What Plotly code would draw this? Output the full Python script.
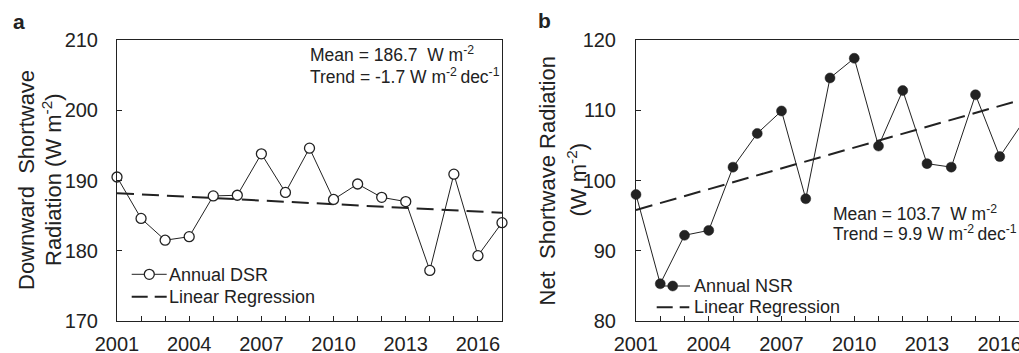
import plotly.graph_objects as go

# ---------------- data ----------------
years = list(range(2001, 2018))
dsr_annual = [190.5, 184.6, 181.5, 182.0, 187.8, 187.9, 193.8, 188.3, 194.6,
              187.3, 189.5, 187.6, 187.0, 177.2, 190.9, 179.3, 184.0]
nsr_annual = [98.0, 85.3, 92.2, 92.9, 101.9, 106.7, 109.9, 97.4, 114.6,
              117.4, 104.9, 112.8, 102.4, 101.9, 112.2, 103.4, 108.5]
trend_years = [2001, 2017]
dsr_trend = [188.2, 185.4]
nsr_trend = [95.8, 111.6]
x_tick_vals = list(range(2001, 2018))
x_tick_text = [str(y) if (y - 2001) % 3 == 0 else "" for y in x_tick_vals]

# ---------------- layout helpers ----------------
W, H = 1019, 353
FONT = "Liberation Sans, Arial, Helvetica, sans-serif"
INK = "#222222"


def px(x):
    return x / W


def py(y):
    return 1 - y / H


fig = go.Figure()

# Panel a
fig.add_trace(go.Scatter(x=trend_years, y=dsr_trend, mode="lines", name="Linear Regression",
                         line=dict(color=INK, width=2, dash="17px,8px"),
                         xaxis="x", yaxis="y", showlegend=False))
fig.add_trace(go.Scatter(x=years, y=dsr_annual, mode="lines+markers", name="Annual DSR",
                         line=dict(color=INK, width=1),
                         marker=dict(symbol="circle", size=10, color="white",
                                     line=dict(color=INK, width=1.3)),
                         cliponaxis=False, xaxis="x", yaxis="y", showlegend=False))
# Panel b
fig.add_trace(go.Scatter(x=trend_years, y=nsr_trend, mode="lines", name="Linear Regression",
                         line=dict(color=INK, width=2, dash="17px,8px"),
                         xaxis="x2", yaxis="y2", showlegend=False))
fig.add_trace(go.Scatter(x=years, y=nsr_annual, mode="lines+markers", name="Annual NSR",
                         line=dict(color=INK, width=1),
                         marker=dict(symbol="circle", size=10, color=INK,
                                     line=dict(color=INK, width=0.5)),
                         cliponaxis=False, xaxis="x2", yaxis="y2", showlegend=False))

axis_common = dict(showgrid=False, zeroline=False, showline=True, linecolor=INK, linewidth=1,
                   ticks="inside", ticklen=5, tickwidth=1, tickcolor=INK, automargin=False,
                   ticklabeloverflow="allow",
                   tickfont=dict(family=FONT, size=20, color=INK))

xdom_a = [px(117), px(502)]
xdom_b = [px(636), 1.0]
ydom = [py(321), py(40)]

fig.update_layout(
    template="none",
    width=W, height=H, margin=dict(l=0, r=0, t=0, b=0, pad=0, autoexpand=False),
    paper_bgcolor="white", plot_bgcolor="white",
    font=dict(family=FONT, color=INK),
    xaxis=dict(domain=xdom_a, range=[2001, 2017], tickmode="array",
               tickvals=x_tick_vals, ticktext=x_tick_text, mirror=True,
               ticklabelstandoff=5, anchor="y", **axis_common),
    yaxis=dict(domain=ydom, range=[170, 210], tickmode="linear", tick0=170, dtick=10,
               mirror=True, ticklabelstandoff=14, anchor="x", **axis_common),
    xaxis2=dict(domain=xdom_b, range=[2001, 2001 + (1019 - 636) / 24.25], tickmode="array",
                tickvals=x_tick_vals, ticktext=x_tick_text, mirror=True,
                ticklabelstandoff=5, anchor="y2", **axis_common),
    yaxis2=dict(domain=ydom, range=[80, 120], tickmode="linear", tick0=80, dtick=10,
                mirror=False, ticklabelstandoff=15, anchor="x2", **axis_common),
)

ann = []


def text(x, y, s, size=18, xanchor="left", angle=0, bold=False):
    ann.append(dict(x=px(x), y=py(y), xref="paper", yref="paper", text=s, showarrow=False,
                    xanchor=xanchor, yanchor="middle", textangle=angle,
                    font=dict(family=FONT, size=size, color=INK,
                              weight="bold" if bold else "normal")))


# panel labels
text(11, 21, "a", size=21, bold=True)
text(536, 20, "b", size=21, bold=True)

# y axis titles
text(26, 180, "Downward\u00a0\u00a0Shortwave", size=22, xanchor="center", angle=-90)
text(52, 180, "Radiation (W m<sup>-2</sup>)", size=22, xanchor="center", angle=-90)
text(547.5, 181, "Net\u00a0\u00a0Shortwave Radiation", size=22, xanchor="center", angle=-90)
text(576.5, 180, "(W m<sup>-2</sup>)", size=22, xanchor="center", angle=-90)

# stats annotations
TS = "\u2009"
text(308, 54, "Mean = 186.7\u00a0 W m<sup>-2</sup>", size=17.5)
text(308, 76, "Trend = -1.7 W m<sup>-2</sup>" + TS + "dec<sup>-1</sup>", size=17.5)
text(831, 213, "Mean = 103.7\u00a0 W m<sup>-2</sup>", size=17.5)
text(831, 233, "Trend = 9.9 W m<sup>-2</sup>" + TS + "dec<sup>-1</sup>", size=17.5)

# legend texts
text(167, 274.5, "Annual DSR")
text(167, 296.7, "Linear Regression")
text(691.5, 286, "Annual NSR")
text(691.5, 307.3, "Linear Regression")

shapes = []


def hline(x0, x1, y, width=1, dash="solid"):
    shapes.append(dict(type="line", xref="paper", yref="paper", x0=px(x0), x1=px(x1),
                       y0=py(y), y1=py(y), line=dict(color=INK, width=width, dash=dash)))


def dot(x, y, fill):
    shapes.append(dict(type="circle", xref="paper", yref="paper", xsizemode="pixel",
                       ysizemode="pixel", xanchor=px(x), yanchor=py(y),
                       x0=-5, x1=5, y0=-5, y1=5, fillcolor=fill,
                       line=dict(color=INK, width=1.3 if fill == "white" else 0.5)))


hline(131.7, 166.7, 274.3)
dot(149.3, 274.3, "white")
hline(131.7, 166.7, 296.7, width=2, dash="16px,7px")
hline(657, 690, 286)
dot(672.7, 286, INK)
hline(656.7, 689.3, 307.3, width=2, dash="16px,7px")

fig.update_layout(annotations=ann, shapes=shapes)
fig.write_html("out.html")
